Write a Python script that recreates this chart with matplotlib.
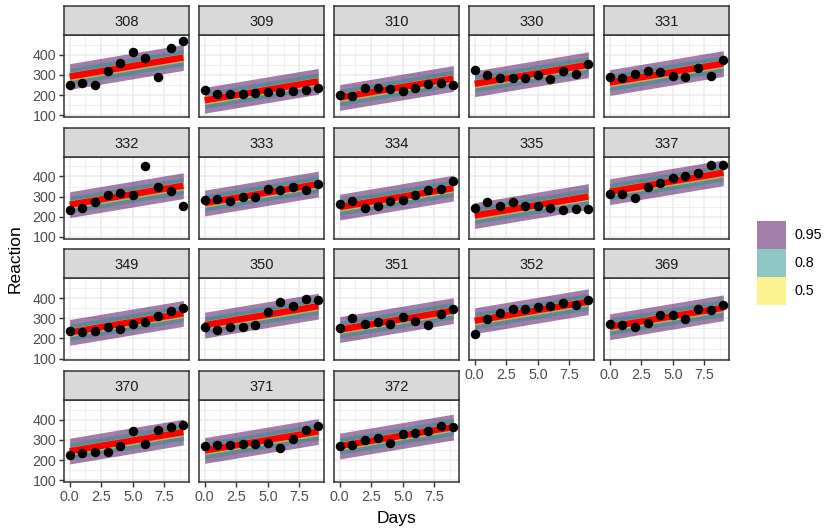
import matplotlib.pyplot as plt
from matplotlib.patches import Patch

plt.rcParams['font.family'] = ['Liberation Sans', 'DejaVu Sans']

subjects = ["308", "309", "310", "330", "331", "332", "333", "334", "335",
            "337", "349", "350", "351", "352", "369", "370", "371", "372"]
days = [0, 1, 2, 3, 4, 5, 6, 7, 8, 9]
reaction = [
    [250, 259, 251, 321, 357, 415, 382, 290, 431, 466],
    [223, 205, 203, 205, 208, 216, 214, 218, 224, 237],
    [199, 194, 234, 233, 229, 220, 235, 256, 261, 248],
    [322, 300, 284, 285, 286, 298, 280, 318, 305, 354],
    [288, 285, 302, 320, 316, 293, 290, 335, 294, 372],
    [235, 243, 273, 310, 317, 310, 454, 347, 330, 254],
    [284, 290, 277, 300, 297, 338, 332, 349, 333, 362],
    [265, 276, 243, 255, 279, 284, 306, 332, 336, 377],
    [242, 274, 254, 271, 251, 255, 245, 235, 236, 237],
    [312, 314, 292, 346, 366, 392, 404, 417, 456, 459],
    [236, 230, 239, 257, 248, 272, 280, 310, 337, 351],
    [256, 243, 256, 256, 269, 330, 379, 363, 394, 389],
    [251, 300, 270, 281, 272, 305, 288, 267, 322, 348],
    [222, 298, 327, 347, 348, 354, 360, 376, 364, 390],
    [272, 268, 257, 278, 315, 317, 298, 348, 340, 367],
    [225, 235, 239, 240, 268, 344, 281, 348, 365, 372],
    [270, 273, 277, 282, 279, 284, 259, 305, 350, 369],
    [269, 273, 298, 311, 287, 330, 334, 343, 369, 364],
]
# fitted line: start value at day 0 for each subject, common slope
fit_start = [292, 174, 188, 256, 262, 260, 268, 248, 206,
             324, 230, 266, 244, 288, 258, 245, 248, 270]
slope = 10.47
levels = ["0.95", "0.8", "0.5"]
half_width = [64, 41, 21]
band_colors = ["#440154", "#21908C", "#FDE725"]

W, H = 828, 529
fig = plt.figure(figsize=(W / 100, H / 100), dpi=100)


def fx(px):
    return px / W


def fy(py):
    return 1 - py / H


grey20 = "#333333"
for i, subj in enumerate(subjects):
    r, c = i // 5, i % 5
    left = 64 + 135 * c
    strip_top = 6 + 121.7 * r
    ptop = strip_top + 29
    pbot = ptop + 82
    ax = fig.add_axes([fx(left), fy(pbot), 125 / W, 82 / H])
    sax = fig.add_axes([fx(left), fy(ptop), 125 / W, 29 / H])
    sax.set_facecolor("#D9D9D9")
    sax.set_xticks([])
    sax.set_yticks([])
    for s in sax.spines.values():
        s.set_color(grey20)
        s.set_linewidth(1.1)
    sax.text(0.5, 0.45, subj, ha="center", va="center", fontsize=10.5,
             color="#1A1A1A", transform=sax.transAxes)

    fit = [fit_start[i] + slope * d for d in days]
    for h, col in zip(half_width, band_colors):
        ax.fill_between(days, [f - h for f in fit], [f + h for f in fit],
                        color=col, alpha=0.5, lw=0, zorder=2)
    ax.plot(days, fit, color="red", lw=4.6, zorder=3, solid_capstyle="butt")
    ax.scatter(days, reaction[i], s=34, color="black", zorder=5, clip_on=False)

    ax.set_xlim(-0.45, 9.45)
    ax.set_ylim(91, 498)
    ax.set_xticks([0, 2.5, 5, 7.5])
    ax.set_xticks([1.25, 3.75, 6.25, 8.75], minor=True)
    ax.set_yticks([100, 200, 300, 400])
    ax.set_yticks([150, 250, 350, 450], minor=True)
    ax.grid(True, which="major", color="#EBEBEB", lw=1.1, zorder=0)
    ax.grid(True, which="minor", color="#EBEBEB", lw=0.55, zorder=0)
    ax.set_axisbelow(True)
    for s in ax.spines.values():
        s.set_color(grey20)
        s.set_linewidth(1.1)
    ax.tick_params(which="minor", length=0)

    bottom = (r == 3) or (c >= 3 and r == 2)
    if bottom:
        ax.set_xticklabels(["0.0", "2.5", "5.0", "7.5"])
        ax.tick_params(axis="x", length=3.5, width=1.0, color=grey20,
                       labelsize=10.3, labelcolor="#4D4D4D", pad=2)
    else:
        ax.tick_params(axis="x", length=0, labelbottom=False)
    if c == 0:
        ax.tick_params(axis="y", length=3.5, width=1.0, color=grey20,
                       labelsize=10.3, labelcolor="#4D4D4D", pad=2)
    else:
        ax.tick_params(axis="y", length=0, labelleft=False)

fig.text(fx(15), fy(259), "Reaction", rotation=90, ha="center", va="center",
         fontsize=12.5)
fig.text(fx(397), fy(518), "Days", ha="center", va="center", fontsize=12.5)

handles = [Patch(facecolor=c, alpha=0.5, edgecolor="none") for c in band_colors]
fig.legend(handles, levels, loc="upper left", bbox_to_anchor=(fx(757), fy(221)),
           frameon=False, fontsize=10.3, handlelength=2.0, handleheight=2.63,
           labelspacing=0, handletextpad=0.6, borderpad=0, borderaxespad=0)

fig.savefig("out.png", dpi=100)
